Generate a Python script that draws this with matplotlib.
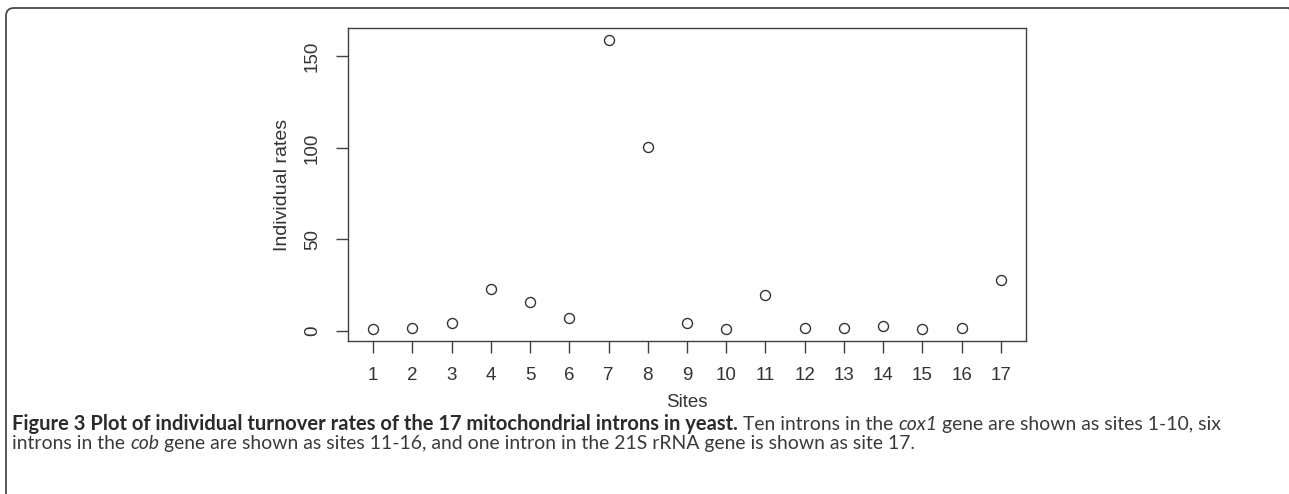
import numpy as np
import matplotlib
matplotlib.use("Agg")
import matplotlib.pyplot as plt
from matplotlib.patches import FancyBboxPatch

sites = list(range(1, 18))
rates = [0.7, 1.5, 4.2, 23.0, 15.8, 6.9, 159.2, 100.3, 4.4, 0.8,
         19.7, 1.6, 1.6, 2.7, 0.8, 1.6, 27.7]
yticks = [0, 50, 100, 150]

caption1 = [("Figure 3 Plot of individual turnover rates of the 17 mitochondrial introns in yeast.", "bold", "normal"),
            ("Ten introns in the", "normal", "normal"),
            ("cox1", "normal", "italic"),
            ("gene are shown as sites 1-10, six", "normal", "normal")]
caption2 = [("introns in the", "normal", "normal"),
            ("cob", "normal", "italic"),
            ("gene are shown as sites 11-16, and one intron in the 21S rRNA gene is shown as site 17.", "normal", "normal")]

W, H = 1289, 494
fig = plt.figure(figsize=(W / 100, H / 100), dpi=100)
fig.patch.set_facecolor("white")

# outer rounded frame of the figure panel, in inches (bottom and right run off the image)
frame = FancyBboxPatch((0.06, -0.5), 12.97 - 0.06, 4.86 + 0.5,
                       boxstyle="round,pad=0,rounding_size=0.08",
                       transform=fig.dpi_scale_trans, fill=False,
                       edgecolor="#4a4a4a", linewidth=1.3)
fig.add_artist(frame)

ax = fig.add_axes([348 / W, (H - 341) / H, 678 / W, 313 / H])
ax.plot(sites, rates, linestyle="none", marker="o", markersize=7.2,
        markerfacecolor="none", markeredgecolor="#333333", markeredgewidth=1.0)

ax.set_xlim(0.36, 17.64)
lo, hi = min(rates), max(rates)
pad = (hi - lo) * 0.04
ax.set_ylim(lo - pad, hi + pad)
ax.set_xticks(sites)
ax.set_yticks(yticks)
for s in ax.spines.values():
    s.set_color("#404040")
    s.set_linewidth(1.0)
ax.tick_params(axis="both", colors="#404040", labelcolor="#333333",
               labelsize=13.5, length=8.5, width=1.0, direction="out")
ax.tick_params(axis="x", pad=10)
ax.tick_params(axis="y", pad=11)
for lab in ax.get_yticklabels():
    lab.set_rotation(90)
    lab.set_verticalalignment("center")
for lab in ax.get_xticklabels() + ax.get_yticklabels():
    lab.set_family("Liberation Sans")

ax.set_xlabel("Sites", fontsize=13.5, family="Liberation Sans", color="#333333", labelpad=7.4)
ax.set_ylabel("Individual rates", fontsize=14, family="Liberation Sans", color="#333333", labelpad=9)

# caption made of mixed-style pieces, sized to the widths seen in the reference
fig.canvas.draw()
renderer = fig.canvas.get_renderer()

X0 = 12.0


def width_of(txt, size, weight="normal", style="normal"):
    t = fig.text(0, 0, txt, fontsize=size, family="Lato", weight=weight, style=style)
    w = t.get_window_extent(renderer).width
    t.remove()
    return w


def draw_line(pieces, y_px, bsize, nsize):
    x = X0
    for txt, weight, style in pieces:
        size = bsize if weight == "bold" else nsize
        space = width_of("a a", size) - width_of("aa", size)
        t = fig.text(x / W, 1 - y_px / H, txt, fontsize=size, family="Lato",
                     weight=weight, style=style,
                     color="#2b2b2b" if weight == "bold" else "#3a3a3a",
                     va="baseline", ha="left")
        x += t.get_window_extent(renderer).width + space
    return x - space


# bold title ends near x=737, second caption line ends near x=920
bsize = 11.0 * (737 - X0) / width_of(caption1[0][0], 11.0, "bold")
nsize = 11.0
trial = X0
for txt, weight, style in caption2:
    trial += width_of(txt, nsize, weight, style) + width_of("a a", nsize) - width_of("aa", nsize)
nsize = nsize * (920 - X0) / (trial - X0)

draw_line(caption1, 430, bsize, nsize)
draw_line(caption2, 449, bsize, nsize)

fig.savefig("out.png", dpi=100)
